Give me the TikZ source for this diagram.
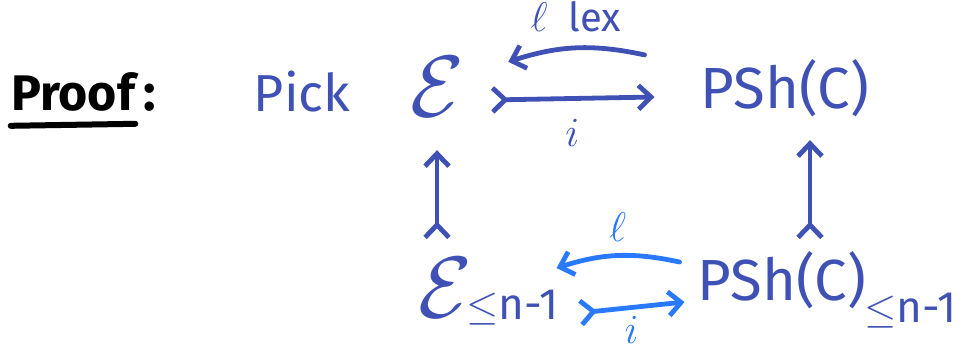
\documentclass[tikz,border=0pt]{standalone}
\usepackage{amsmath,amssymb}
\usepackage{graphicx}
\usepackage{fontspec}
\setmainfont{Fira Sans}
\usetikzlibrary{positioning,arrows.meta,calc}
\usepackage{xcolor}
\definecolor{inkblue}{RGB}{63,81,181}
\definecolor{skyblue}{RGB}{41,121,255}
\newcommand{\bigcalE}{\scalebox{1.75}{$\mathcal{E}$}}

\begin{document}
\begin{tikzpicture}[x=0.5pt,y=-0.5pt,every node/.style={inkblue,inner sep=0pt},
  big/.style={font=\fontsize{26}{30}\selectfont},
  bigger/.style={font=\fontsize{29}{33}\selectfont},
  cal/.style={font=\fontsize{24.88}{30}\selectfont},
  sub/.style={font=\fontsize{22}{26}\selectfont},
  lab/.style={font=\fontsize{20}{24}\selectfont},
  >={Straight Barb[length=2.2mm,width=4.2mm]},
  arr/.style={inkblue,line width=2.4pt,line cap=round},
  lowarr/.style={arr,skyblue}]
\useasboundingbox (0,0) rectangle (967,349);
\node[black,font=\fontsize{25}{30}\bfseries\selectfont] (proof) at (73,92) {Proof};
\draw[black,line width=3pt,line cap=round] ([yshift=-7pt]proof.south west) -- ([yshift=-6pt]proof.south east);
\node[black,big] (colon) at (150,98) {\textbf{:}};
\node[big] (pick) at (302,92) {Pick};
\node[cal] (E) at (437,87) {\bigcalE};
\node[bigger] (psh) at (785,88) {PSh(C)};
\node[cal] (Eb) at (445,288) {\bigcalE};
\node[sub,anchor=west] (Ebsub) at (466,308) {$\leq$n-1};
\node[bigger] (pshb) at (782,280) {PSh(C)};
\node[sub,anchor=west] (pshbsub) at (864,311) {$\leq$n-1};
\draw[arr,>->] ([xshift=13pt,yshift=-6.5pt]E.east) -- ([xshift=-23pt,yshift=-4.5pt]psh.west)
  node[midway,below=9pt,lab] {$i$};
\draw[arr,->] ([xshift=-28pt,yshift=2pt]psh.north west) to[bend right=15]
  node[midway,above=7pt,lab] {$\ell$\ \ lex} ([xshift=22pt,yshift=-2.5pt]E.north east);
\draw[arr,>->] ([xshift=-4pt,yshift=9pt]Eb.north) -- ([yshift=-16.5pt]E.south);
\draw[arr,>->] ([xshift=14pt,yshift=5.5pt]pshb.north) -- ([xshift=12.5pt,yshift=-11.5pt]psh.south);
\draw[lowarr,->] ([xshift=-9pt,yshift=9pt]pshb.west) to[bend right=15]
  node[midway,above=6pt,lab,skyblue] {$\ell$} ([xshift=-1pt,yshift=11pt]Ebsub.north east);
\draw[lowarr,>->] ([xshift=10pt,yshift=-2.5pt]Ebsub.east) -- ([xshift=-6.5pt,yshift=-11pt]pshb.west)
  node[midway,below=3pt,lab,skyblue] {$i$};
\end{tikzpicture}
\end{document}
